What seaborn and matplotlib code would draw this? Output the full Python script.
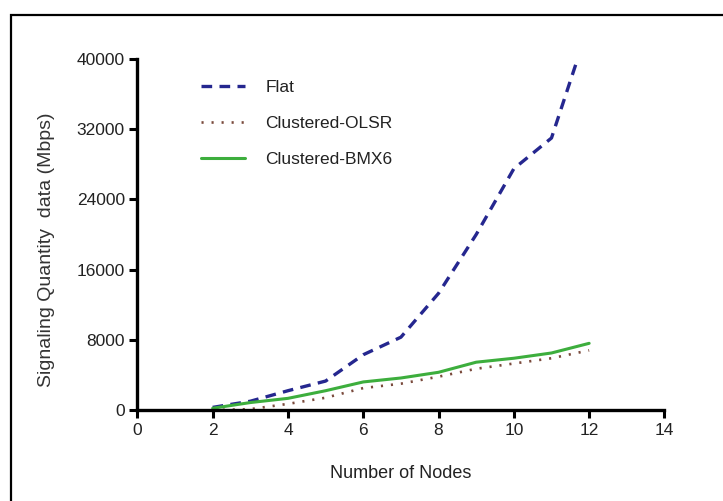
import matplotlib
matplotlib.use("Agg")
import matplotlib.pyplot as plt
import seaborn as sns
import pandas as pd
from matplotlib.patches import Rectangle

nodes = [2, 3, 4, 5, 6, 7, 8, 9, 10, 11, 12]
flat = [300, 1000, 2200, 3300, 6300, 8300, 13300, 20000, 27500, 31000, 44000]
olsr = [0, 100, 700, 1400, 2500, 3000, 3800, 4700, 5300, 5900, 6800]
bmx6 = [200, 850, 1330, 2200, 3200, 3650, 4300, 5450, 5900, 6500, 7600]

series_names = ["Flat", "Clustered-OLSR", "Clustered-BMX6"]
x_ticks = [0, 2, 4, 6, 8, 10, 12, 14]
y_ticks = [0, 8000, 16000, 24000, 32000, 40000]

sns.set_theme(style="ticks")
plt.rcParams['font.family'] = ['Liberation Sans', 'DejaVu Sans']

df = pd.DataFrame({
    "Nodes": nodes * 3,
    "Value": flat + olsr + bmx6,
    "Series": [series_names[0]] * len(nodes) + [series_names[1]] * len(nodes) + [series_names[2]] * len(nodes),
})

fig = plt.figure(figsize=(7.23, 5.01), dpi=100)
ax = fig.add_axes([0.190, 0.1816, 0.729, 0.7006])

styles = {
    "Flat": dict(color="#25278f", lw=2.4, ls=(0, (3.2, 2.2))),
    "Clustered-OLSR": dict(color="#7a4a3c", lw=1.9, ls=(0, (0.8, 3.0))),
    "Clustered-BMX6": dict(color="#3dae3d", lw=2.2, ls="-"),
}
for name in series_names:
    sub = df[df["Series"] == name]
    st = styles[name]
    sns.lineplot(data=sub, x="Nodes", y="Value", ax=ax, color=st["color"],
                 linewidth=st["lw"], linestyle=st["ls"], label=name)

ax.set_xlim(0, 14)
ax.set_ylim(0, 40000)
ax.set_xticks(x_ticks)
ax.set_yticks(y_ticks)
ax.tick_params(axis="both", direction="out", length=6, width=2.2, labelsize=12.5,
               colors="black", labelcolor="#222222", pad=3)
for s in ["top", "right"]:
    ax.spines[s].set_visible(False)
for s in ["left", "bottom"]:
    ax.spines[s].set_linewidth(2.4)
    ax.spines[s].set_color("black")

ax.set_xlabel("Number of Nodes", fontsize=13, color="#222222", labelpad=20)
ax.set_ylabel("Signaling Quantity  data (Mbps)", fontsize=14, color="#333333")
ax.yaxis.set_label_coords(-0.156, 0.456)

leg = ax.legend(loc="upper left", bbox_to_anchor=(0.108, 0.96), frameon=False,
                fontsize=12.5, handlelength=2.5, handletextpad=1.2, labelspacing=1.2,
                borderaxespad=0)
for t in leg.get_texts():
    t.set_color("#222222")

fig.patches.append(Rectangle((11 / 723, -0.1), 1.2, 0.1 + 1 - 15 / 501,
                             transform=fig.transFigure, fill=False,
                             edgecolor="black", linewidth=1.6))

fig.savefig("out.png", dpi=100, facecolor="white")
